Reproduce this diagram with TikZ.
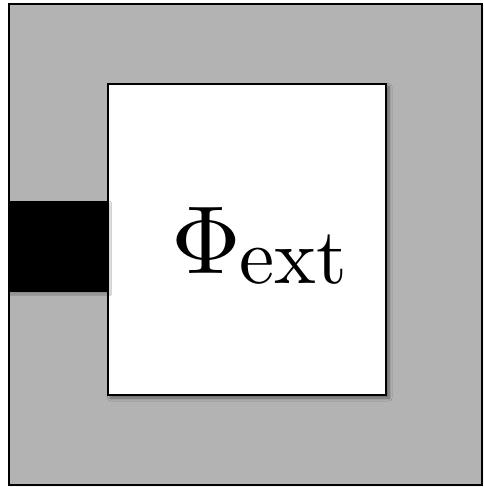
\documentclass[tikz,border=0pt]{standalone}
\usetikzlibrary{shadows.blur}
\definecolor{bggray}{RGB}{179,179,179}
\begin{document}
\begin{tikzpicture}[x=1pt,y=-1pt,
  outerbox/.style={draw=black,line width=2pt,fill=bggray,
    blur shadow={shadow xshift=1pt,shadow yshift=-1pt,shadow blur steps=6,shadow opacity=20}},
  innerbox/.style={draw=black,line width=2pt,fill=white,
    blur shadow={shadow xshift=3pt,shadow yshift=-3pt,shadow blur radius=3pt,shadow blur steps=8,shadow opacity=45}},
  magnet/.style={fill=black,
    blur shadow={shadow xshift=2pt,shadow yshift=-2pt,shadow blur steps=6,shadow opacity=25}},
  flux/.style={font=\fontsize{10}{12}\selectfont,scale=9.66,inner sep=0pt}]
\useasboundingbox (0,0) rectangle (483,487);
\path[outerbox] (8.5,4.5) rectangle (481.5,484.5);
\path[innerbox] (107.5,83.5) rectangle (386,395);
\path[magnet] (8,201) rectangle (108,292);
\node[flux,anchor=base west] (phi) at (169.6,273)
  {$\Phi$\kern-0.15pt\raisebox{-1.035pt}{\scalebox{0.818}{ext}}};
\end{tikzpicture}
\end{document}
